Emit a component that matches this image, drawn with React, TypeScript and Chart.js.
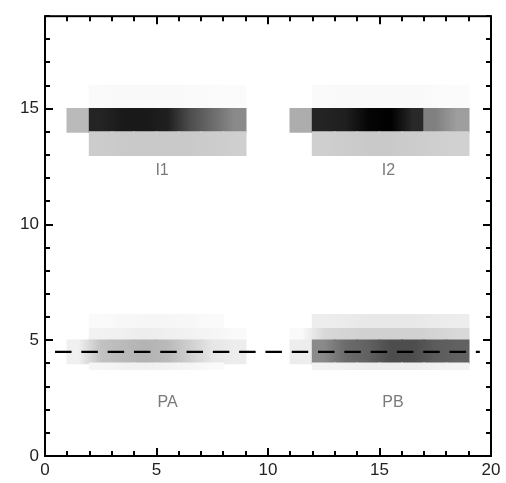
import { useEffect, useRef } from 'react';
import { Chart, registerables } from 'chart.js';

Chart.register(...registerables);

// Column centres of the image cells (x from 0 to 20, one unit wide)
const columnCentres = [0.5, 1.5, 2.5, 3.5, 4.5, 5.5, 6.5, 7.5, 8.5, 9.5, 10.5, 11.5, 12.5, 13.5, 14.5, 15.5, 16.5, 17.5, 18.5, 19.5];

// Row ranges (y from, y to) for each intensity row
const rowRanges = [[15, 16], [14, 15], [13, 14], [5.5, 6.1], [5, 5.5], [4, 5], [3.75, 4]];

// Darkness of each cell (0 = white, 1 = black), one array per row
const haloAboveI = [0, 0, 0.02, 0.025, 0.025, 0.025, 0.02, 0.02, 0.015, 0, 0, 0, 0.02, 0.025, 0.025, 0.025, 0.025, 0.02, 0.015, 0];
const bandITop = [0, 0.27, 0.86, 0.9, 0.9, 0.88, 0.7, 0.58, 0.46, 0, 0, 0.32, 0.86, 0.88, 0.98, 1, 0.84, 0.5, 0.38, 0];
const bandILow = [0, 0, 0.2, 0.21, 0.21, 0.21, 0.21, 0.2, 0.19, 0, 0, 0, 0.19, 0.2, 0.21, 0.21, 0.2, 0.19, 0.18, 0];
const haloAboveP = [0, 0, 0.02, 0.03, 0.035, 0.035, 0.03, 0.02, 0, 0, 0, 0, 0.07, 0.08, 0.09, 0.09, 0.09, 0.08, 0.07, 0];
const bandPUpper = [0, 0, 0.05, 0.06, 0.07, 0.06, 0.05, 0.04, 0.02, 0, 0, 0.02, 0.15, 0.17, 0.18, 0.18, 0.18, 0.17, 0.15, 0];
const bandPMain = [0, 0.06, 0.24, 0.27, 0.3, 0.27, 0.19, 0.1, 0.07, 0, 0, 0.07, 0.46, 0.58, 0.62, 0.7, 0.7, 0.64, 0.62, 0];
const haloBelowP = [0, 0, 0.04, 0.05, 0.06, 0.05, 0.04, 0.02, 0, 0, 0, 0, 0.05, 0.06, 0.07, 0.07, 0.07, 0.06, 0.05, 0];

const rowDarkness = [haloAboveI, bandITop, bandILow, haloAboveP, bandPUpper, bandPMain, haloBelowP];

// Dashed reference line
const refLineX = [0.45, 19.5];
const refLineY = [4.5, 4.5];

// Band labels
const bandLabels = ['I1', 'I2', 'PA', 'PB'];
const bandLabelX = [5.25, 15.4, 5.5, 15.6];
const bandLabelY = [12.35, 12.35, 2.3, 2.3];

// Axes
const xMin = 0;
const xMax = 20;
const yMin = 0;
const yMax = 19;
const majorStep = 5;

function grey(d: number) {
  const g = Math.round(255 * (1 - d));
  return `rgb(${g},${g},${g})`;
}

export default function App() {
  const ref = useRef<HTMLCanvasElement | null>(null);

  useEffect(() => {
    document.body.style.margin = '0';
    const canvas = ref.current;
    if (!canvas) return;

    const cells: { x: number; y: number[] }[] = [];
    const cellRow: number[] = [];
    const cellCol: number[] = [];
    rowDarkness.forEach((row, r) => {
      row.forEach((d, c) => {
        if (d <= 0) return;
        cells.push({ x: columnCentres[c], y: [rowRanges[r][0], rowRanges[r][1]] });
        cellRow.push(r);
        cellCol.push(c);
      });
    });

    const edgeDarkness = (d: number, n: number) => (n > 0 && Math.abs(n - d) < 0.3 ? (n + d) / 2 : d);

    const cellColour = (context: any) => {
      const i = context.dataIndex;
      const r = cellRow[i];
      const c = cellCol[i];
      const row = rowDarkness[r];
      const d = row[c];
      const chart = context.chart;
      const xs = chart.scales && chart.scales.x;
      if (!xs || !chart.chartArea) return grey(d);
      const left = xs.getPixelForValue(columnCentres[c] - 0.5);
      const right = xs.getPixelForValue(columnCentres[c] + 0.5);
      const prev = c > 0 ? row[c - 1] : 0;
      const next = c < row.length - 1 ? row[c + 1] : 0;
      const g = chart.ctx.createLinearGradient(left, 0, right, 0);
      g.addColorStop(0, grey(edgeDarkness(d, prev)));
      g.addColorStop(0.5, grey(d));
      g.addColorStop(1, grey(edgeDarkness(d, next)));
      return g;
    };

    const framePlugin = {
      id: 'frameTicks',
      afterDatasetsDraw(chart: any) {
        const { ctx, chartArea } = chart;
        const xs = chart.scales.x;
        const ys = chart.scales.y;
        ctx.save();
        ctx.strokeStyle = '#000';
        ctx.lineWidth = 2;
        ctx.beginPath();
        for (let v = xMin; v <= xMax; v++) {
          const px = Math.round(xs.getPixelForValue(v));
          const len = v % majorStep === 0 ? 8 : 5;
          ctx.moveTo(px, chartArea.bottom);
          ctx.lineTo(px, chartArea.bottom - len);
          ctx.moveTo(px, chartArea.top);
          ctx.lineTo(px, chartArea.top + len);
        }
        for (let v = yMin; v <= yMax; v++) {
          const py = Math.round(ys.getPixelForValue(v));
          const len = v % majorStep === 0 ? 8 : 5;
          ctx.moveTo(chartArea.left, py);
          ctx.lineTo(chartArea.left + len, py);
          ctx.moveTo(chartArea.right, py);
          ctx.lineTo(chartArea.right - len, py);
        }
        ctx.stroke();
        ctx.strokeRect(chartArea.left, chartArea.top, chartArea.right - chartArea.left, chartArea.bottom - chartArea.top);

        ctx.fillStyle = '#7a7a7a';
        ctx.font = '16px "Liberation Sans", Arial, sans-serif';
        ctx.textAlign = 'center';
        ctx.textBaseline = 'middle';
        bandLabels.forEach((t, i) => {
          ctx.fillText(t, xs.getPixelForValue(bandLabelX[i]), ys.getPixelForValue(bandLabelY[i]));
        });
        ctx.restore();
      },
    };

    const tickFont = { family: '"Liberation Sans", Arial, sans-serif', size: 17 };

    const chart = new Chart(canvas, {
      type: 'bar',
      data: {
        datasets: [
          {
            type: 'line',
            data: refLineX.map((x, i) => ({ x, y: refLineY[i] })),
            borderColor: '#000',
            borderWidth: 2.2,
            borderDash: [16.5, 9.8],
            pointRadius: 0,
            fill: false,
            order: 0,
          } as any,
          {
            type: 'bar',
            data: cells as any,
            backgroundColor: cellColour,
            borderWidth: 0,
            inflateAmount: 0.8,
            barPercentage: 1,
            categoryPercentage: 1,
            order: 1,
          } as any,
        ],
      },
      options: {
        responsive: false,
        animation: false,
        devicePixelRatio: 1,
        events: [],
        layout: { padding: { top: 10, right: 15, left: 0, bottom: 0 } },
        plugins: { legend: { display: false }, tooltip: { enabled: false } },
        scales: {
          x: {
            type: 'linear',
            min: xMin,
            max: xMax,
            offset: false,
            grid: { display: false, offset: false, drawTicks: false },
            border: { display: false },
            ticks: {
              stepSize: majorStep,
              autoSkip: false,
              maxRotation: 0,
              padding: 4,
              color: '#222',
              font: tickFont,
              includeBounds: false,
            } as any,
            afterFit: (s: any) => {
              s.height = 27;
            },
          },
          y: {
            type: 'linear',
            min: yMin,
            max: yMax,
            grid: { display: false, drawTicks: false },
            border: { display: false },
            ticks: {
              stepSize: majorStep,
              padding: 6,
              color: '#222',
              font: tickFont,
              includeBounds: false,
              callback: (v: any) => (Number(v) % majorStep === 0 ? String(v) : ''),
            } as any,
            afterFit: (s: any) => {
              s.width = 45;
            },
          },
        },
      },
      plugins: [framePlugin],
    });

    return () => chart.destroy();
  }, []);

  return (
    <div style={{ width: 506, height: 483 }}>
      <canvas ref={ref} width={506} height={483} style={{ display: 'block' }} />
    </div>
  );
}
